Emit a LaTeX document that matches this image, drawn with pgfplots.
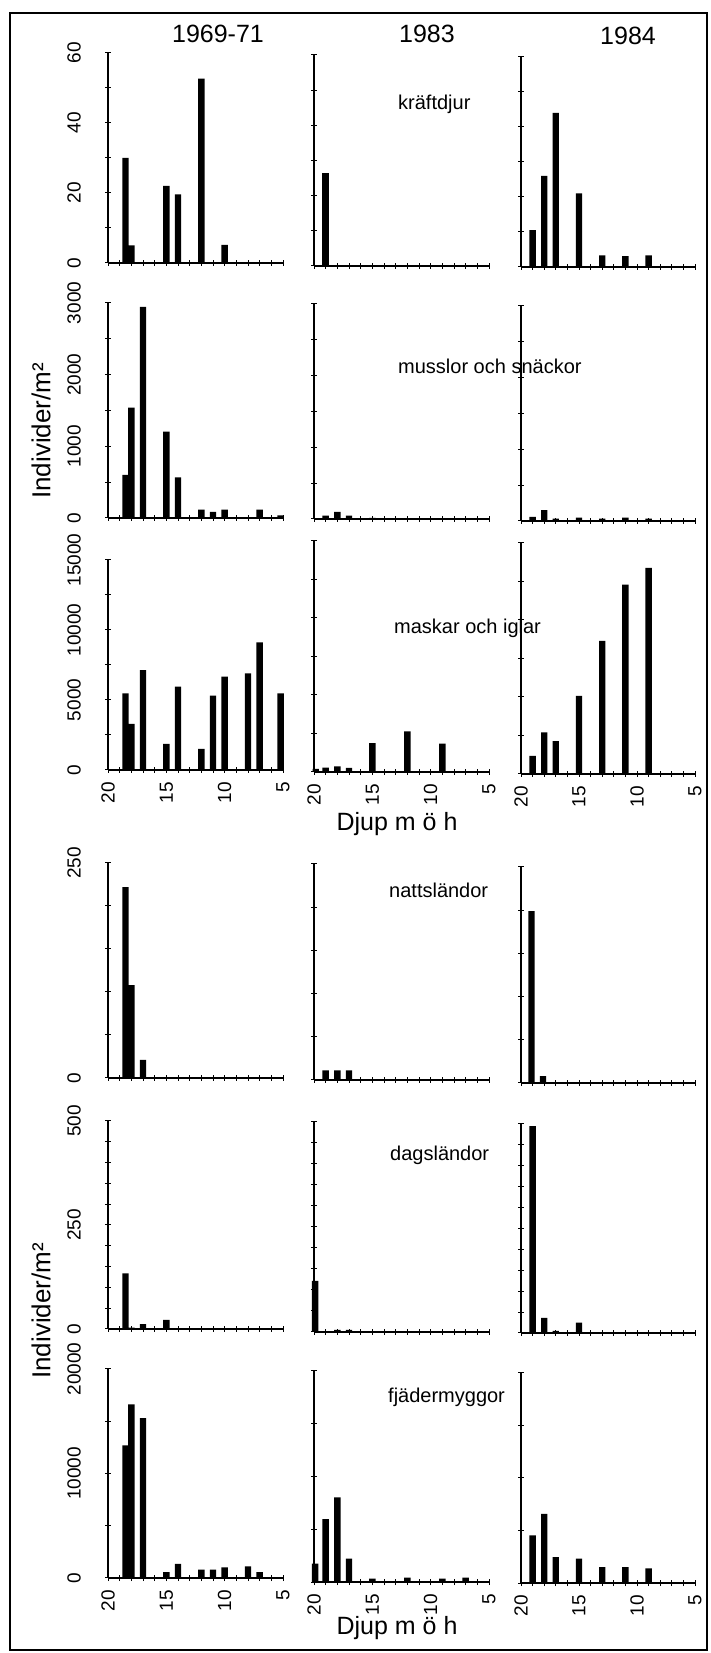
\documentclass[border=0pt]{standalone}
\usepackage{fontspec}
\setmainfont{Liberation Sans}
\usepackage{pgfplots}
\pgfplotsset{compat=1.18}
\newcommand\tickfont{\fontsize{19}{19}\selectfont}
\newcommand\labfont{\fontsize{20}{20}\selectfont}
\newcommand\bigfont{\fontsize{25}{25}\selectfont}
\pgfplotsset{
  panel/.style={
    scale only axis, width=175pt,
    xmin=-20, xmax=-5, ymin=0,
    enlargelimits=false, clip=false,
    axis x line*=bottom, axis y line*=left,
    axis line style={-, line width=1.6pt, black},
    x axis line style={-}, y axis line style={-},
    xtick={-20,-15,-10,-5}, minor xtick={-19,...,-6},
    xticklabels={},
    tick align=center, major tick length=6pt, minor tick length=6pt,
    tick style={black, line width=1pt},
    minor tick style={black, line width=1pt},
    scaled y ticks=false,
    tick label style={font=\tickfont, inner sep=0pt},
    yticklabel style={rotate=90, anchor=south},
    yticklabel shift=24pt,
    xticklabel style={rotate=90, anchor=east},
    xticklabel shift=9pt,
  },
  xlab/.style={xticklabels={20,15,10,5}},
  r1/.style={ymax=60, ytick={0,20,40,60}, minor ytick={10,30,50}},
  r2/.style={ymax=3000, ytick={0,1000,2000,3000}, minor ytick={500,1500,2500}},
  r3/.style={ymax=15000, ytick={0,5000,10000,15000}, minor ytick={2500,7500,12500}},
  r4/.style={ymax=250, ytick={0,250}, minor ytick={50,100,150,200}},
  r5/.style={ymax=500, ytick={0,250,500}, minor ytick={50,100,150,200,300,350,400,450}},
  r6/.style={ymax=20000, ytick={0,10000,20000}, minor ytick={5000,15000}},
  bars/.style={ybar, bar width=0.55, bar shift=0pt, fill=black, draw=none},
}
\begin{document}
\begin{tikzpicture}[x=1pt,y=1pt]
\useasboundingbox (0,0) rectangle (710,1653);
\draw[line width=2pt] (10,3) rectangle (707,1640);

% titles
\node[font=\bigfont] at (218,1619) {1969-71};
\node[font=\bigfont] at (427,1619) {1983};
\node[font=\bigfont] at (628,1617) {1984};

% ===== Row 1: kräftdjur =====
\begin{axis}[panel, r1, at={(108pt,1390pt)}, anchor=south west, height=210pt, yticklabels={0,20,40,60}]
\addplot[bars] table[row sep=\\, x expr=-\thisrow{d}, y=n] {d n\\ 18.5 30\\ 18 5\\ 15 22\\ 14 19.6\\ 12 52.7\\ 10 5.2\\};
\end{axis}
\begin{axis}[panel, r1, at={(314pt,1387pt)}, anchor=south west, height=211pt, yticklabels={}]
\addplot[bars] table[row sep=\\, x expr=-\thisrow{d}, y=n] {d n\\ 19 26.3\\};
\end{axis}
\begin{axis}[panel, r1, at={(521pt,1386pt)}, anchor=south west, height=210pt, width=174pt, yticklabels={}]
\addplot[bars] table[row sep=\\, x expr=-\thisrow{d}, y=n] {d n\\ 19 10.5\\ 18 26\\ 17 44\\ 15 21\\ 13 3.3\\ 11 3.1\\ 9 3.3\\};
\end{axis}

% ===== Row 2: musslor och snäckor =====
\begin{axis}[panel, r2, at={(108pt,1135pt)}, anchor=south west, height=215pt, yticklabels={0,1000,2000,3000}]
\addplot[bars] table[row sep=\\, x expr=-\thisrow{d}, y=n] {d n\\ 18.5 600\\ 18 1540\\ 17 2945\\ 15 1205\\ 14 565\\ 12 115\\ 11 85\\ 10 115\\ 7 115\\ 5.2 35\\};
\end{axis}
\begin{axis}[panel, r2, at={(314pt,1134pt)}, anchor=south west, height=215pt, yticklabels={}]
\addplot[bars] table[row sep=\\, x expr=-\thisrow{d}, y=n] {d n\\ 19 47\\ 18 98\\ 17 47\\ 15 14\\};
\end{axis}
\begin{axis}[panel, r2, at={(521pt,1132pt)}, anchor=south west, height=215pt, width=174pt, yticklabels={}]
\addplot[bars] table[row sep=\\, x expr=-\thisrow{d}, y=n] {d n\\ 19 56\\ 18 150\\ 17 33\\ 15 47\\ 13 33\\ 11 47\\ 9 33\\};
\end{axis}

% ===== Row 3: maskar och iglar =====
\begin{axis}[panel, r3, xlab, at={(108pt,883pt)}, anchor=south west, height=210pt, yticklabels={0,5000,10000,15000}]
\addplot[bars] table[row sep=\\, x expr=-\thisrow{d}, y=n] {d n\\ 18.5 5480\\ 18 3290\\ 17 7140\\ 15 1860\\ 14 5950\\ 12 1500\\ 11 5310\\ 10 6670\\ 8 6900\\ 7 9120\\ 5.2 5480\\};
\end{axis}
\begin{axis}[panel, r3, xlab, at={(314pt,881pt)}, anchor=south west, height=231pt, yticklabels={}]
\addplot[bars] table[row sep=\\, x expr=-\thisrow{d}, y=n] {d n\\ 19.85 200\\ 19 280\\ 18 370\\ 17 260\\ 15 1880\\ 12 2640\\ 9 1840\\};
\end{axis}
\begin{axis}[panel, r3, xlab, at={(521pt,879pt)}, anchor=south west, height=231pt, width=174pt, yticklabels={}]
\addplot[bars] table[row sep=\\, x expr=-\thisrow{d}, y=n] {d n\\ 19 1170\\ 18 2700\\ 17 2140\\ 15 5080\\ 13 8650\\ 11 12300\\ 9 13380\\};
\end{axis}

% ===== Row 4: nattsländor =====
\begin{axis}[panel, r4, at={(108pt,575pt)}, anchor=south west, height=215pt, yticklabels={0,250}]
\addplot[bars] table[row sep=\\, x expr=-\thisrow{d}, y=n] {d n\\ 18.5 222\\ 18 108\\ 17 21\\};
\end{axis}
\begin{axis}[panel, r4, at={(314pt,573pt)}, anchor=south west, height=216pt, yticklabels={}]
\addplot[bars] table[row sep=\\, x expr=-\thisrow{d}, y=n] {d n\\ 19 11\\ 18 11\\ 17 11\\};
\end{axis}
\begin{axis}[panel, r4, at={(521pt,570pt)}, anchor=south west, height=216pt, width=174pt, yticklabels={}]
\addplot[bars] table[row sep=\\, x expr=-\thisrow{d}, y=n] {d n\\ 19.1 199\\ 18.1 8\\};
\end{axis}

% ===== Row 5: dagsländor =====
\begin{axis}[panel, r5, at={(108pt,324pt)}, anchor=south west, height=208pt, yticklabels={0,250,500}]
\addplot[bars] table[row sep=\\, x expr=-\thisrow{d}, y=n] {d n\\ 18.5 134\\ 18 3\\ 17 12\\ 15 22\\};
\end{axis}
\begin{axis}[panel, r5, at={(314pt,321pt)}, anchor=south west, height=210pt, yticklabels={}]
\addplot[bars] table[row sep=\\, x expr=-\thisrow{d}, y=n] {d n\\ 19.9 122\\ 18 5\\ 17 5\\};
\end{axis}
\begin{axis}[panel, r5, at={(521pt,320pt)}, anchor=south west, height=209pt, width=174pt, yticklabels={}]
\addplot[bars] table[row sep=\\, x expr=-\thisrow{d}, y=n] {d n\\ 19 495\\ 18 36\\ 17 5\\ 15 25\\};
\end{axis}

% ===== Row 6: fjädermyggor =====
\begin{axis}[panel, r6, xlab, at={(108pt,75pt)}, anchor=south west, height=209pt, yticklabels={0,10000,20000}]
\addplot[bars] table[row sep=\\, x expr=-\thisrow{d}, y=n] {d n\\ 18.5 12680\\ 18 16620\\ 17 15290\\ 15 570\\ 14 1340\\ 12 800\\ 11 800\\ 10 1020\\ 8 1120\\ 7 570\\};
\end{axis}
\begin{axis}[panel, r6, xlab, at={(314pt,71pt)}, anchor=south west, height=211pt, yticklabels={}]
\addplot[bars] table[row sep=\\, x expr=-\thisrow{d}, y=n] {d n\\ 19.9 1740\\ 19 5950\\ 18 8010\\ 17 2210\\ 15 320\\ 12 410\\ 9 320\\ 7 410\\};
\end{axis}
\begin{axis}[panel, r6, xlab, at={(521pt,70pt)}, anchor=south west, height=210pt, width=174pt, yticklabels={}]
\addplot[bars] table[row sep=\\, x expr=-\thisrow{d}, y=n] {d n\\ 19 4525\\ 18 6580\\ 17 2470\\ 15 2310\\ 13 1520\\ 11 1520\\ 9 1390\\};
\end{axis}

% species labels
\node[font=\labfont, anchor=west, inner sep=0pt] at (398,1549) {kräftdjur};
\node[font=\labfont, anchor=west, inner sep=0pt] at (398,1287) {musslor och snäckor};
\node[font=\labfont, anchor=west, inner sep=0pt] at (394,1025) {maskar och iglar};
\node[font=\labfont, anchor=west, inner sep=0pt] at (389,763) {nattsländor};
\node[font=\labfont, anchor=west, inner sep=0pt] at (390,498) {dagsländor};
\node[font=\labfont, anchor=west, inner sep=0pt] at (388,256) {fjädermyggor};

% axis titles
\node[font=\fontsize{26}{26}\selectfont, rotate=90] at (41,1222) {Individer/m²};
\node[font=\fontsize{26}{26}\selectfont, rotate=90] at (41,342) {Individer/m²};
\node[font=\bigfont] at (397,829) {Djup m ö h};
\node[font=\bigfont] at (397,25) {Djup m ö h};
\end{tikzpicture}
\end{document}
